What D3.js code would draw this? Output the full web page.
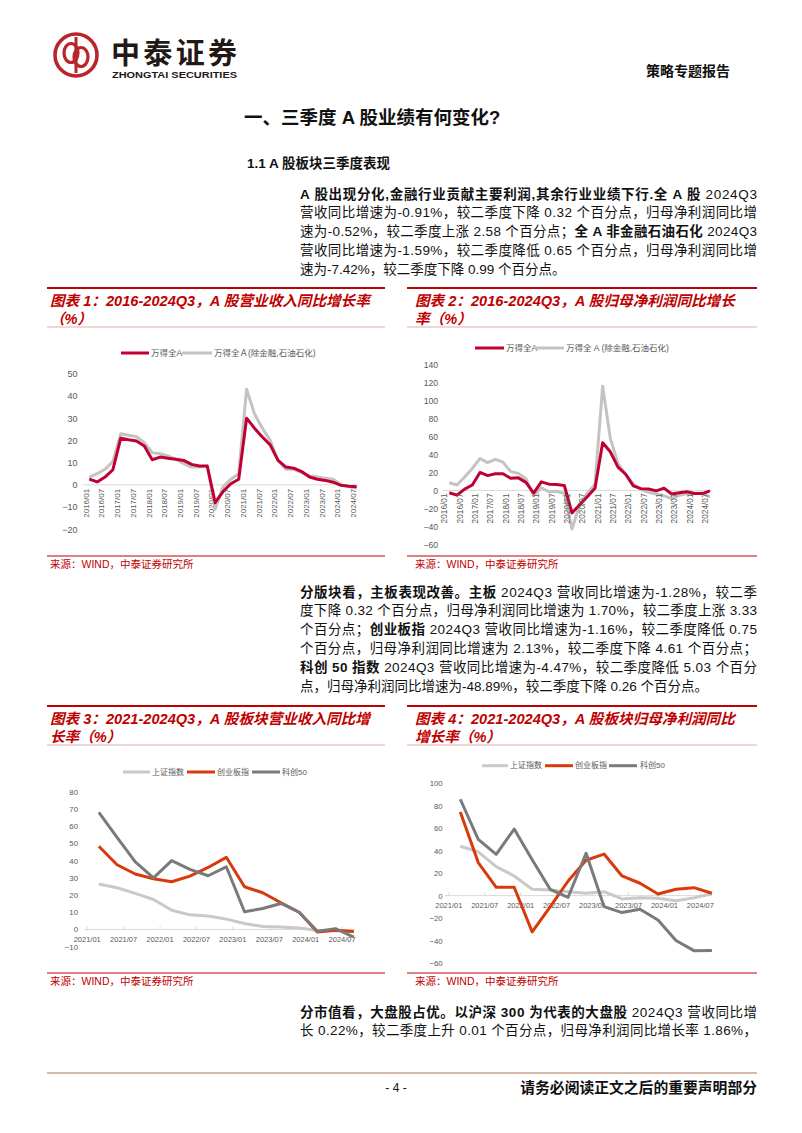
<!DOCTYPE html>
<html><head><meta charset="utf-8">
<script src="https://cdn.jsdelivr.net/npm/d3@7"></script>
<style>
html,body{margin:0;padding:0;background:#fff;}
svg{display:block;}
text{font-family:"Liberation Sans","Noto Sans CJK SC",sans-serif;}
</style></head><body>
<svg id="page" width="802" height="1133"></svg>
<script>
// ---------- DATA ----------
const c1Periods = ["2016Q1","2016Q2","2016Q3","2016Q4","2017Q1","2017Q2","2017Q3","2017Q4","2018Q1","2018Q2","2018Q3","2018Q4","2019Q1","2019Q2","2019Q3","2019Q4","2020Q1","2020Q2","2020Q3","2020Q4","2021Q1","2021Q2","2021Q3","2021Q4","2022Q1","2022Q2","2022Q3","2022Q4","2023Q1","2023Q2","2023Q3","2023Q4","2024Q1","2024Q2","2024Q3"];
const c1TickLabels = ["2016/01","2016/07","2017/01","2017/07","2018/01","2018/07","2019/01","2019/07","2020/01","2020/07","2021/01","2021/07","2022/01","2022/07","2023/01","2023/07","2024/01","2024/07"];
const c1SeriesNames = ["万得全A","万得全Ａ(除金融,石油石化)"];
const c1AllA  = [2.6,1.3,3.5,6.8,21,20.3,19.7,17.5,11.3,12.5,12,11.5,11,9.2,8.5,8.5,-8,-3,0.5,2.5,30,25.5,21.5,18,11,8,7.5,6,3.5,2.5,2,1.2,-0.2,-0.6,-0.91];
const c1ExFin = [3.5,5,7,10.5,23,22.3,21.7,19,14.5,14,13,11.5,9.5,8,8,8.5,-11,-1,2.5,5,43,32,25.5,20,11,7,7,5.5,4,3.5,3,2.5,0,-0.8,-1.59];
const c1YTicks = [50,40,30,20,10,0,-10,-20];

const c2SeriesNames = ["万得全A","万得全 A (除金融,石油石化)"];
const c2AllA  = [-2.6,-5.2,1.5,6,20,16.5,18.5,18.5,13.5,14,9,-3,9.5,7,6.5,5.5,-25,-16,-7,2.5,53,43,26,18,5,2,1.5,-0.5,2.5,-4,-2.5,-1.5,-3.5,-3.5,-0.52];
const c2ExFin = [8.5,6,15,24.5,35.5,31,34.5,31.5,21,19,13,-6,3,-1.5,-1,-3.5,-43,-16,-3,7,116,58,30,18,7,1,-2,-4,-6,-9,-5.5,-3.5,-3.5,-3,-7.42];
const c2YTicks = [140,120,100,80,60,40,20,0,-20,-40,-60];

const c3Dates = ["2021/03","2021/06","2021/09","2021/12","2022/03","2022/06","2022/09","2022/12","2023/03","2023/06","2023/09","2023/12","2024/03","2024/06","2024/09"];
const c3TickLabels = ["2021/01","2021/07","2022/01","2022/07","2023/01","2023/07","2024/01","2024/07"];
const c3SeriesNames = ["上证指数","创业板指","科创50"];
const c3SH   = [26.4,24.2,21,17.4,11.2,8.5,7.8,6,3.5,1.7,1.4,0.8,-0.6,-0.8,-1.28];
const c3CYB  = [48.3,37.6,32.2,29.5,27.7,31,36,41.9,24.8,21.3,15.5,10,-1.5,-0.4,-1.16];
const c3KC50 = [68,53.5,39.3,30,40,34.9,31.2,36.4,10.3,12.2,15.1,10,-1,0.5,-4.47];
const c3YTicks = [80,70,60,50,40,30,20,10,0,-10];

const c4SH   = [44,39,25.8,17.5,5.6,5,3.5,2,3.5,-3,-1.8,-2.4,-4.5,-2,1.70];
const c4CYB  = [74.5,29.4,7.4,7.4,-32.3,-10,13,31.5,37,17.5,11,1.5,5.6,7.1,2.13];
const c4KC50 = [85.8,50.1,36.8,59.3,32,5.6,-1.5,37.7,-9.8,-15.1,-12.2,-21.7,-40,-49,-48.89];
const c4YTicks = [100,80,60,40,20,0,-20,-40,-60];

// ---------- PAGE ----------
const svg = d3.select("#page");
const RED = "#C00000";

// header logo
const logo = svg.append("g").attr("transform","translate(76,55)");
logo.append("circle").attr("r",21).attr("fill","none").attr("stroke","#B8262C").attr("stroke-width",3.6);
logo.append("ellipse").attr("cx",-5).attr("cy",-2).attr("rx",7).attr("ry",9.5).attr("fill","none").attr("stroke","#B8262C").attr("stroke-width",3.2);
logo.append("ellipse").attr("cx",5).attr("cy",2).attr("rx",7).attr("ry",9.5).attr("fill","none").attr("stroke","#B8262C").attr("stroke-width",3.2);
logo.append("line").attr("x1",0).attr("x2",0).attr("y1",-18).attr("y2",18).attr("stroke","#B8262C").attr("stroke-width",3);
svg.append("text").attr("x",111).attr("y",64).attr("font-size",29).attr("font-weight","bold").attr("fill","#231815").attr("textLength",126).text("中泰证券");
svg.append("text").attr("x",112).attr("y",78).attr("font-size",9).attr("font-weight","bold").attr("fill","#231815").attr("textLength",125).attr("lengthAdjust","spacingAndGlyphs").text("ZHONGTAI SECURITIES");
svg.append("text").attr("x",730).attr("y",71).attr("text-anchor","end").attr("dominant-baseline","central").attr("font-size",14).attr("font-weight","bold").attr("fill","#111").text("策略专题报告");

svg.append("text").attr("x",244).attr("y",117).attr("dominant-baseline","central").attr("font-size",18.5).attr("font-weight","bold").attr("fill","#111").text("一、三季度 A 股业绩有何变化?");
svg.append("text").attr("x",247).attr("y",163).attr("dominant-baseline","central").attr("font-size",13.5).attr("font-weight","bold").attr("fill","#111").text("1.1 A 股板块三季度表现");

function para(lines, y0, dy, justifyLast) {
  const x0 = 300, x1 = 757;
  lines.forEach((segs, i) => {
    const t = svg.append("text").attr("x", x0).attr("y", y0 + i*dy).attr("dominant-baseline","central")
      .attr("font-size",13.5).attr("fill","#111");
    segs.forEach(([s,b]) => t.append("tspan").attr("font-weight", b ? "bold" : "normal").text(s));
    if (i < lines.length-1 || justifyLast) t.attr("textLength", x1-x0).attr("lengthAdjust","spacing");
  });
}
para([
  [["A 股出现分化,金融行业贡献主要利润,其余行业业绩下行.全 A 股",1],[" 2024Q3",0]],
  [["营收同比增速为-0.91%，较二季度下降 0.32 个百分点，归母净利润同比增",0]],
  [["速为-0.52%，较二季度上涨 2.58 个百分点；",0],["全 A 非金融石油石化",1],[" 2024Q3",0]],
  [["营收同比增速为-1.59%，较二季度降低 0.65 个百分点，归母净利润同比增",0]],
  [["速为-7.42%，较二季度下降 0.99 个百分点。",0]]
], 193.5, 18.9, false);
para([
  [["分版块看，主板表现改善。主板",1],[" 2024Q3 营收同比增速为-1.28%，较二季",0]],
  [["度下降 0.32 个百分点，归母净利润同比增速为 1.70%，较二季度上涨 3.33",0]],
  [["个百分点；",0],["创业板指",1],[" 2024Q3 营收同比增速为-1.16%，较二季度降低 0.75",0]],
  [["个百分点，归母净利润同比增速为 2.13%，较二季度下降 4.61 个百分点；",0]],
  [["科创 50 指数",1],[" 2024Q3 营收同比增速为-4.47%，较二季度降低 5.03 个百分",0]],
  [["点，归母净利润同比增速为-48.89%，较二季度下降 0.26 个百分点。",0]]
], 591.5, 18.9, false);
para([
  [["分市值看，大盘股占优。以沪深 300 为代表的大盘股",1],[" 2024Q3 营收同比增",0]],
  [["长 0.22%，较二季度上升 0.01 个百分点，归母净利润同比增长率 1.86%，",0]]
], 1011.5, 18.9, true);

// footer
svg.append("line").attr("x1",47).attr("x2",757).attr("y1",1073).attr("y2",1073).attr("stroke","#D8B8A6").attr("stroke-width",2);
svg.append("text").attr("x",396).attr("y",1088).attr("text-anchor","middle").attr("dominant-baseline","central").attr("font-size",12).attr("fill","#111").text("- 4 -");
svg.append("text").attr("x",757).attr("y",1088).attr("text-anchor","end").attr("dominant-baseline","central").attr("font-size",14.8).attr("font-weight","bold").attr("fill","#111").text("请务必阅读正文之后的重要声明部分");

// chart titles & sources
function chartTitle(x0, x1, tx, yTop, l1, l2) {
  svg.append("line").attr("x1",x0).attr("x2",x1).attr("y1",yTop).attr("y2",yTop).attr("stroke",RED).attr("stroke-width",2);
  [l1,l2].forEach((s,i) => svg.append("text").attr("x",tx).attr("y",yTop+12.5+18*i).attr("dominant-baseline","central")
    .attr("font-size",14.6).attr("font-weight","bold").attr("font-style","italic").attr("fill",RED).text(s));
  svg.append("line").attr("x1",x0).attr("x2",x1).attr("y1",yTop+39).attr("y2",yTop+39).attr("stroke","#E2AFAF").attr("stroke-width",1);
}
function source(x0, x1, tx, y) {
  svg.append("line").attr("x1",x0).attr("x2",x1).attr("y1",y).attr("y2",y).attr("stroke",RED).attr("stroke-width",1);
  svg.append("text").attr("x",tx).attr("y",y+8).attr("dominant-baseline","central").attr("font-size",10.5).attr("fill",RED).text("来源：WIND，中泰证券研究所");
}
const L = [47,385,50], R = [407,757,415];
chartTitle(L[0],L[1],L[2],288,"图表 1：2016-2024Q3，A 股营业收入同比增长率","（%）");
chartTitle(R[0],R[1],R[2],288,"图表 2：2016-2024Q3，A 股归母净利润同比增长","率（%）");
chartTitle(L[0],L[1],L[2],706,"图表 3：2021-2024Q3，A 股板块营业收入同比增","长率（%）");
chartTitle(R[0],R[1],R[2],706,"图表 4：2021-2024Q3，A 股板块归母净利润同比","增长率（%）");
source(L[0],L[1],L[2],556); source(R[0],R[1],R[2],556);
source(L[0],L[1],L[2],973); source(R[0],R[1],R[2],973);

// ---------- CHART HELPERS ----------
const AX = "#595959";
function yAxis(y, ticks, xRight, fs) {
  const g = svg.append("g").attr("transform",`translate(${xRight},0)`)
    .call(d3.axisLeft(y).tickValues(ticks).tickSize(0).tickPadding(0));
  g.select(".domain").remove();
  g.selectAll("text").attr("fill",AX).attr("font-size",fs).attr("font-family",'"Liberation Sans",sans-serif');
}
function zeroLine(y, xa, xb) {
  svg.append("line").attr("x1",xa).attr("x2",xb).attr("y1",y(0)).attr("y2",y(0)).attr("stroke","#D9D9D9").attr("stroke-width",1);
}
function series(xf, yv, data, color, w) {
  svg.append("path").datum(data).attr("fill","none").attr("stroke",color).attr("stroke-width",w)
    .attr("stroke-linejoin","round").attr("d", d3.line().x((d,i)=>xf(i)).y(d=>yv(d)));
}
function legend(items, y, fs) {
  items.forEach(([x0,x1,tx,color,name]) => {
    svg.append("line").attr("x1",x0).attr("x2",x1).attr("y1",y).attr("y2",y).attr("stroke",color).attr("stroke-width",3);
    svg.append("text").attr("x",tx).attr("y",y).attr("dominant-baseline","central").attr("font-size",fs).attr("fill",AX).text(name);
  });
}
function rotatedX(x, y0, tickFmt, topGap, leftShift, fs) {
  const g = svg.append("g").attr("transform",`translate(0,${y0})`)
    .call(d3.axisBottom(x).tickValues(c1Periods.filter((d,i)=>i%2===0)).tickFormat(tickFmt).tickSize(0));
  g.select(".domain").remove();
  g.selectAll("text").attr("transform","rotate(-90)").attr("text-anchor","end")
    .attr("x",-topGap).attr("y",-leftShift).attr("dy","0.35em")
    .attr("fill",AX).attr("font-size",fs).attr("font-family",'"Liberation Sans",sans-serif');
}
const monthIdx = s => { const [yy,mm] = s.split("/").map(Number); return (yy-2021)*12 + (mm-1); };
function horizX(x, y0, gap, fs) {
  const g = svg.append("g").attr("transform",`translate(0,${y0})`)
    .call(d3.axisBottom(x).tickValues(c3TickLabels.map(monthIdx)).tickFormat(m => c3TickLabels[m/6]).tickSizeInner(-3).tickSizeOuter(0));
  g.select(".domain").remove();
  g.selectAll("line").attr("stroke","#D9D9D9");
  g.selectAll("text").attr("y",gap).attr("dy","0.35em").attr("fill",AX).attr("font-size",fs).attr("font-family",'"Liberation Sans",sans-serif');
}

// ---------- CHART 1 ----------
{
  const x = d3.scalePoint().domain(c1Periods).range([89.3,356.7]);
  const y = d3.scaleLinear().domain([-20,50]).range([529.3,373.7]);
  const xi = i => x(c1Periods[i]);
  yAxis(y, c1YTicks, 77.5, 9);
  zeroLine(y, 83, 358);
  rotatedX(x, y(0), p => c1TickLabels[c1Periods.indexOf(p)/2], 4, 4, 8);
  series(xi, y, c1ExFin, "#C3C3C3", 3);
  series(xi, y, c1AllA, "#C00032", 3);
  legend([[121,149,151,"#C00032",c1SeriesNames[0]],[182,212,214,"#C3C3C3",c1SeriesNames[1]]], 353, 8.5);
}
// ---------- CHART 2 ----------
{
  const x = d3.scalePoint().domain(c1Periods).range([449.3,710]);
  const y = d3.scaleLinear().domain([-60,140]).range([544.3,364.7]);
  const xi = i => x(c1Periods[i]);
  yAxis(y, c2YTicks, 438, 8.6);
  zeroLine(y, 443, 712);
  series(xi, y, c2ExFin, "#C3C3C3", 3);
  series(xi, y, c2AllA, "#C00032", 3);
  rotatedX(x, y(0), p => c1TickLabels[c1Periods.indexOf(p)/2], 3, 5.5, 8.3);
  legend([[475,504,506,"#C00032",c2SeriesNames[0]],[535,564,566,"#C3C3C3",c2SeriesNames[1]]], 348, 8.5);
}
// ---------- CHART 3 ----------
const LIGHT = "#C9C9C9", ORANGE = "#D93A0C", DARK = "#7A7A7A";
{
  const x = d3.scaleLinear().domain([0,44]).range([86.7,353.8]);
  const y = d3.scaleLinear().domain([-10,80]).range([946.7,791.7]);
  const xi = i => x(monthIdx(c3Dates[i]));
  yAxis(y, c3YTicks, 78, 7.8);
  zeroLine(y, 84, 355);
  horizX(x, y(0), 10.4, 7.5);
  series(xi, y, c3SH, LIGHT, 3);
  series(xi, y, c3CYB, ORANGE, 3);
  series(xi, y, c3KC50, DARK, 3);
  legend([[123,150,152,LIGHT,c3SeriesNames[0]],[187,215,217,ORANGE,c3SeriesNames[1]],[252,280,282,DARK,c3SeriesNames[2]]], 772, 8);
}
// ---------- CHART 4 ----------
{
  const x = d3.scaleLinear().domain([0,44]).range([448.3,711.9]);
  const y = d3.scaleLinear().domain([-60,100]).range([963,783.3]);
  const xi = i => x(monthIdx(c3Dates[i]));
  yAxis(y, c4YTicks, 442.7, 7.8);
  zeroLine(y, 445, 712);
  horizX(x, y(0), 10, 7.5);
  series(xi, y, c4SH, LIGHT, 3);
  series(xi, y, c4CYB, ORANGE, 3);
  series(xi, y, c4KC50, DARK, 3);
  legend([[482,508,510,LIGHT,c3SeriesNames[0]],[545,573,575,ORANGE,c3SeriesNames[1]],[609,637,640,DARK,c3SeriesNames[2]]], 765.7, 8);
}
</script>
</body></html>
